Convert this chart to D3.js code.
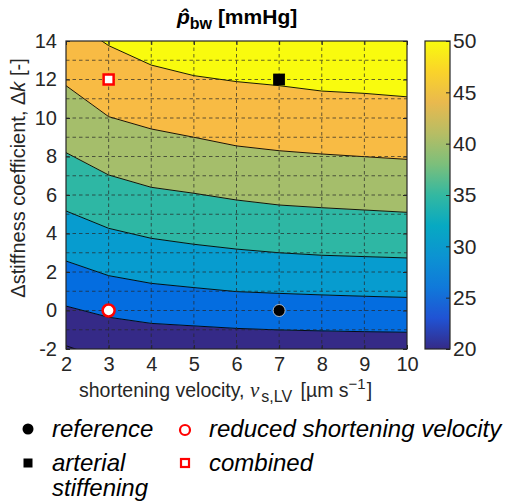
<!DOCTYPE html>
<html>
<head>
<meta charset="utf-8">
<script src="https://cdn.jsdelivr.net/npm/d3@7"></script>
<style>
  body { margin: 0; background: #fff; }
  svg text { font-family: "Liberation Sans", Arial, Helvetica, sans-serif; }
</style>
</head>
<body>
<svg id="chart" width="506" height="504"></svg>
<script>
// shortening velocity grid [um/s] where the contour lines were read
const velocity = [2, 3, 4, 5, 6, 7, 8, 9, 10];
// contour levels of p_bw [mmHg]
const levels = [20, 25, 30, 35, 40, 45, 50];
// delta-k position of each contour line at each velocity
const c20 = [-1.83, -2.6, -2.9, -3.0, -3.1, -3.1, -3.2, -3.2, -3.2];
const c25 = [0.23, -0.35, -0.67, -0.80, -0.93, -1.01, -1.06, -1.10, -1.13];
const c30 = [2.57, 1.81, 1.41, 1.19, 0.98, 0.89, 0.81, 0.74, 0.68];
const c35 = [5.17, 4.27, 3.75, 3.44, 3.19, 3.00, 2.87, 2.80, 2.73];
const c40 = [8.20, 7.04, 6.40, 6.09, 5.74, 5.48, 5.34, 5.22, 5.10];
const c45 = [11.68, 10.07, 9.43, 9.00, 8.55, 8.30, 8.13, 7.99, 7.85];
const c50 = [15.26, 13.76, 12.75, 12.20, 11.89, 11.68, 11.40, 11.28, 11.10];
const contourLines = [c20, c25, c30, c35, c40, c45, c50];

// fill of each band: below 20, 20-25, ..., above 50 (parula)
const bandColors = ["#352A87", "#352A87", "#046DE0", "#079CCF", "#2EB7A4", "#A5BE6B", "#F8BB44", "#F9FB0E"];
// parula stops for the colour bar, bottom to top
const parulaStops = ["#352A87", "#2053D4", "#1079DA", "#0C93D2", "#07A9C2", "#33B8A1",
                     "#7CBF7B", "#B7BD64", "#E9B94E", "#FAD32A", "#F9FB0E"];

const xTicks = [2, 3, 4, 5, 6, 7, 8, 9, 10];
const yTicks = [-2, 0, 2, 4, 6, 8, 10, 12, 14];
const cbTicks = [20, 25, 30, 35, 40, 45, 50];

// simulated scenarios
const scenarioLabels = [["reference"], ["reduced shortening velocity"], ["arterial", "stiffening"], ["combined"]];
const scenarioV = [7, 3, 7, 3];
const scenarioDk = [0, 0, 12, 12];
const scenarioShape = ["circle", "circle", "square", "square"];
const scenarioFill = ["#000", "#fff", "#000", "#fff"];
const scenarioStroke = ["#d8d8d8", "#ff0000", "#000", "#ff0000"];

const svg = d3.select("#chart");
const axisColor = "#262626";

const plot = { left: 66, top: 41, right: 407, bottom: 349 };
const x = d3.scaleLinear().domain([2, 10]).range([plot.left, plot.right]);
const y = d3.scaleLinear().domain([-2, 14]).range([plot.bottom, plot.top]);

svg.append("clipPath").attr("id", "plotClip")
  .append("rect")
  .attr("x", plot.left).attr("y", plot.top)
  .attr("width", plot.right - plot.left).attr("height", plot.bottom - plot.top);

const g = svg.append("g").attr("clip-path", "url(#plotClip)");

// filled bands between contour lines
const yLow = y.domain()[0] - 2, yHigh = y.domain()[1] + 2;
for (let i = 0; i < bandColors.length; i++) {
  const lower = i === 0 ? null : contourLines[i - 1];
  const upper = i === contourLines.length ? null : contourLines[i];
  const area = d3.area()
    .x((d, j) => x(velocity[j]))
    .y0((d, j) => y(lower ? lower[j] : yLow))
    .y1((d, j) => y(upper ? upper[j] : yHigh));
  g.append("path")
    .datum(velocity)
    .attr("d", area)
    .attr("fill", bandColors[i])
    .attr("stroke", bandColors[i])
    .attr("stroke-width", 0.5);
}

// contour lines
const line = d3.line().x((d, j) => x(velocity[j])).y(d => y(d));
g.selectAll(".contour")
  .data(contourLines)
  .enter().append("path")
  .attr("class", "contour")
  .attr("d", line)
  .attr("fill", "none")
  .attr("stroke", "#000")
  .attr("stroke-width", 0.9);

// dashed grid, every unit
const gridX = d3.range(3, 10);
const gridY = d3.range(-1, 14);
g.selectAll(".gx").data(gridX).enter().append("line")
  .attr("x1", d => x(d)).attr("x2", d => x(d))
  .attr("y1", plot.top).attr("y2", plot.bottom);
g.selectAll(".gy").data(gridY).enter().append("line")
  .attr("y1", d => y(d)).attr("y2", d => y(d))
  .attr("x1", plot.left).attr("x2", plot.right);
g.selectAll("line")
  .attr("stroke", axisColor)
  .attr("stroke-opacity", 0.7)
  .attr("stroke-width", 1)
  .attr("stroke-dasharray", "3.5,3");

// scenario markers
function drawMarker(sel, shape, cx, cy, size, fill, stroke, sw) {
  if (shape === "circle") {
    sel.append("circle").attr("cx", cx).attr("cy", cy).attr("r", size / 2)
      .attr("fill", fill).attr("stroke", stroke).attr("stroke-width", sw);
  } else {
    sel.append("rect").attr("x", cx - size / 2).attr("y", cy - size / 2)
      .attr("width", size).attr("height", size)
      .attr("fill", fill).attr("stroke", stroke).attr("stroke-width", sw);
  }
}
const mk = svg.append("g");
scenarioV.forEach((v, i) => {
  const red = scenarioStroke[i] === "#ff0000";
  drawMarker(mk, scenarioShape[i], x(v), y(scenarioDk[i]),
    scenarioShape[i] === "circle" ? 12 : (red ? 10 : 11),
    scenarioFill[i], scenarioStroke[i], red ? 2.5 : 0.8);
});

// axes
const fs = 20;
const plain = d => String(d);
svg.append("g").attr("transform", `translate(0,${plot.bottom})`)
  .call(d3.axisBottom(x).tickValues(xTicks).tickSize(-4).tickPadding(8).tickFormat(plain));
svg.append("g").attr("transform", `translate(${plot.left},0)`)
  .call(d3.axisLeft(y).tickValues(yTicks).tickSize(-4).tickPadding(9).tickFormat(plain));
svg.append("g").attr("transform", `translate(0,${plot.top})`)
  .call(d3.axisTop(x).tickValues(xTicks).tickSize(-4).tickFormat(""));
svg.append("g").attr("transform", `translate(${plot.right},0)`)
  .call(d3.axisRight(y).tickValues(yTicks).tickSize(-4).tickFormat(""));
svg.selectAll(".domain").remove();
svg.selectAll(".tick line").attr("stroke", axisColor);
svg.selectAll(".tick text").attr("fill", axisColor).attr("font-size", fs)
  .attr("font-family", "Liberation Sans, Arial, sans-serif");

svg.append("rect")
  .attr("x", plot.left).attr("y", plot.top)
  .attr("width", plot.right - plot.left).attr("height", plot.bottom - plot.top)
  .attr("fill", "none").attr("stroke", axisColor).attr("stroke-width", 1.2);

// colour bar
const cb = { left: 425, right: 450 };
const cy = d3.scaleLinear().domain([20, 50]).range([plot.bottom, plot.top]);
const grad = svg.append("defs").append("linearGradient")
  .attr("id", "parula").attr("x1", 0).attr("y1", 1).attr("x2", 0).attr("y2", 0);
grad.selectAll("stop").data(parulaStops).enter().append("stop")
  .attr("offset", (d, i) => i / (parulaStops.length - 1))
  .attr("stop-color", d => d);
svg.append("rect")
  .attr("x", cb.left).attr("y", cy(50))
  .attr("width", cb.right - cb.left).attr("height", cy(20) - cy(50))
  .attr("fill", "url(#parula)").attr("stroke", axisColor).attr("stroke-width", 1.2);
const cbAxis = svg.append("g").attr("transform", `translate(${cb.right},0)`)
  .call(d3.axisRight(cy).tickValues(cbTicks).tickSize(-4).tickPadding(3).tickFormat(plain));
cbAxis.select(".domain").remove();
cbAxis.selectAll(".tick line").attr("stroke", axisColor);
cbAxis.selectAll(".tick text").attr("fill", axisColor).attr("font-size", fs + 1)
  .attr("font-family", "Liberation Sans, Arial, sans-serif");

// title
const title = svg.append("text")
  .attr("x", 177).attr("y", 24)
  .attr("font-weight", "bold")
  .attr("font-size", 21).attr("fill", "#000");
title.append("tspan").attr("font-style", "italic").text("p\u0302");
title.append("tspan").attr("font-size", 16).attr("dy", 5).text("bw");
title.append("tspan").attr("dy", -5).text(" [mmHg]");

// x label
const xl = svg.append("text")
  .attr("x", 79).attr("y", 397)
  .attr("font-size", 19.5).attr("fill", axisColor);
xl.append("tspan").text("shortening velocity, ");
xl.append("tspan").attr("font-family", "Liberation Serif, Times New Roman, serif")
  .attr("font-style", "italic").attr("font-size", 21).text("v");
xl.append("tspan").attr("font-size", 16).attr("dy", 5).attr("dx", 2).text("s,LV");
xl.append("tspan").attr("dy", -5).attr("dx", 3).text(" [\u00B5m s");
xl.append("tspan").attr("font-size", 15).attr("dy", -8).text("\u22121");
xl.append("tspan").attr("dy", 8).attr("dx", 1).text("]");

// y label
const yl = svg.append("text")
  .attr("transform", `translate(25,178) rotate(-90)`)
  .attr("text-anchor", "middle").attr("font-size", fs).attr("fill", axisColor);
yl.append("tspan").text("\u0394stiffness coefficient, \u0394");
yl.append("tspan").attr("font-style", "italic").text("k");
yl.append("tspan").text(" [-]");

// legend
const legendColX = [28, 185];
const legendTextX = [52, 209];
const legendRowY = [429, 463];
const leg = svg.append("g");
scenarioLabels.forEach((lines, i) => {
  const col = i % 2, row = Math.floor(i / 2);
  const red = scenarioStroke[i] === "#ff0000";
  const shape = scenarioShape[i];
  drawMarker(leg, shape, legendColX[col], legendRowY[row] + (red && shape === "circle" ? 1 : 0),
    shape === "circle" ? (red ? 10 : 11) : (red ? 8 : 9),
    scenarioFill[i], red ? "#ff0000" : "#000", red ? 2.2 : 0);
  const t = leg.append("text")
    .attr("x", legendTextX[col]).attr("y", legendRowY[row] + 8)
    .attr("font-size", 24).attr("font-style", "italic").attr("fill", "#000");
  lines.forEach((s, k) => {
    t.append("tspan").attr("x", legendTextX[col]).attr("dy", k === 0 ? 0 : 25).text(s);
  });
});
</script>
</body>
</html>
